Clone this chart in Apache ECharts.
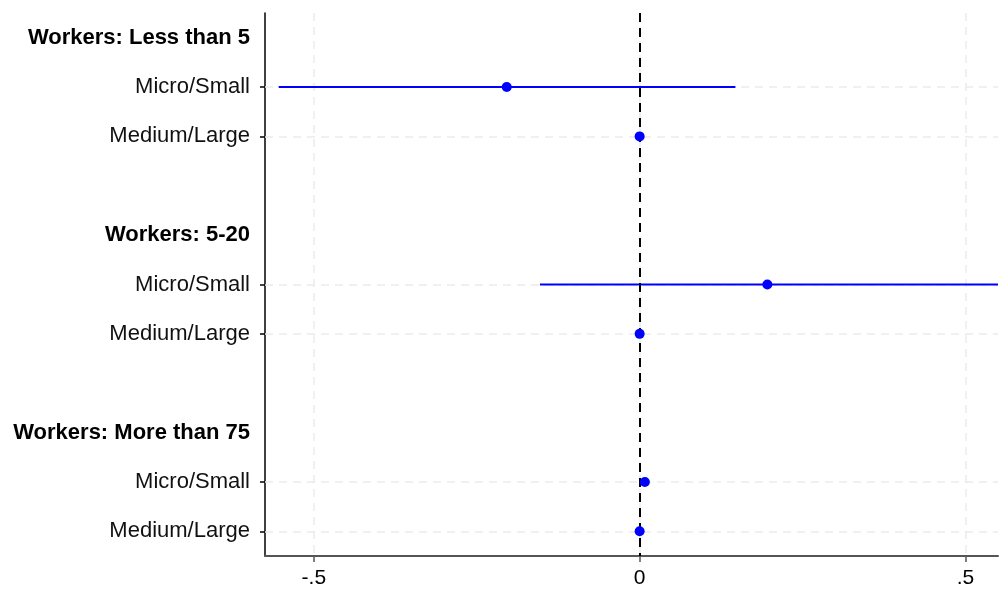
<!DOCTYPE html>
<html style="height: 100%">
<head>
    <meta charset="UTF-8">
    <title>Coefficient plot</title>
</head>
<body style="height: 100%; margin: 0; background: #fff">
<div id="container" style="height: 100%"></div>
<script src="https://cdn.jsdelivr.net/npm/echarts@6/dist/echarts.min.js"></script>
<script>
    // rows from top to bottom; headers are bold, blank rows are spacers
    var rowLabels = ['Workers: Less than 5', 'Micro/Small', 'Medium/Large', '',
        'Workers: 5-20', 'Micro/Small', 'Medium/Large', '',
        'Workers: More than 75', 'Micro/Small', 'Medium/Large'];
    var headerRows = [0, 4, 8];
    var blankRows = [3, 7];

    // estimates with 95% CI
    var estRows = [1, 2, 5, 6, 9, 10];
    var estimates = [-0.204, 0, 0.196, 0, 0.008, 0];
    var ciLow = [-0.554, null, -0.153, null, null, null];
    var ciHigh = [0.147, null, 0.56, null, null, null];

    var xTicks = [-0.5, 0, 0.5];
    var xTickLabels = ['-.5', '0', '.5'];

    var rowKeys = rowLabels.map(function (l, i) { return 'r' + i; });
    var pointData = [];
    var ciData = [];
    var gridLines = [];
    for (var i = 0; i < estRows.length; i++) {
        pointData.push([estimates[i], rowKeys[estRows[i]]]);
        gridLines.push({ yAxis: rowKeys[estRows[i]] });
        if (ciLow[i] !== null) {
            ciData.push([ciLow[i], ciHigh[i], estRows[i]]);
        }
    }

    function isLabelRow(i) {
        return headerRows.indexOf(i) < 0 && blankRows.indexOf(i) < 0;
    }

    var dom = document.getElementById('container');
    var myChart = echarts.init(dom);
    var font = 'Liberation Sans, Arial, sans-serif';
    var gridStyle = { color: '#ebebeb', width: 1.5, type: [8, 6] };
    var option = {
        animation: false,
        grid: { left: 265, right: 2, top: 13, bottom: 31 },
        xAxis: {
            type: 'value',
            min: -0.575,
            max: 0.55,
            axisLine: { show: true, onZero: false, lineStyle: { color: '#555', width: 2 } },
            axisTick: { show: true, length: 6, customValues: xTicks, lineStyle: { color: '#555', width: 1.5 } },
            axisLabel: {
                customValues: xTicks,
                margin: 12,
                color: '#000',
                fontSize: 21,
                fontFamily: font,
                formatter: function (v) {
                    var k = xTicks.indexOf(Math.round(v * 1000) / 1000);
                    return k >= 0 ? xTickLabels[k] : '';
                }
            },
            splitLine: { show: true, lineStyle: gridStyle }
        },
        yAxis: {
            type: 'category',
            inverse: true,
            data: rowKeys,
            axisLine: { show: true, onZero: false, lineStyle: { color: '#000', width: 1.5 } },
            axisTick: {
                show: true, length: 5, alignWithLabel: true,
                interval: function (idx) { return isLabelRow(idx); },
                lineStyle: { color: '#000', width: 1.5 }
            },
            axisLabel: {
                margin: 15,
                interval: 0,
                color: '#111',
                fontSize: 22,
                fontFamily: font,
                formatter: function (v, idx) {
                    if (headerRows.indexOf(idx) >= 0) return '{b|' + rowLabels[idx] + '}';
                    return rowLabels[idx];
                },
                rich: { b: { fontWeight: 'bold', fontSize: 22, fontFamily: font, color: '#000' } }
            },
            splitLine: { show: false }
        },
        series: [
            {
                // horizontal grid lines at the labelled rows
                type: 'line',
                data: [],
                z: 1,
                markLine: {
                    silent: true,
                    z: 1,
                    symbol: 'none',
                    label: { show: false },
                    lineStyle: gridStyle,
                    data: gridLines
                }
            },
            {
                type: 'custom',
                clip: true,
                data: ciData,
                encode: { x: [0, 1], y: 2 },
                renderItem: function (params, api) {
                    var a = api.coord([api.value(0), rowKeys[api.value(2)]]);
                    var b = api.coord([api.value(1), rowKeys[api.value(2)]]);
                    return {
                        type: 'line',
                        shape: { x1: a[0], y1: a[1], x2: b[0], y2: b[1] },
                        style: { stroke: '#0000ff', lineWidth: 2 }
                    };
                },
                z: 3
            },
            {
                type: 'scatter',
                data: pointData,
                symbol: 'circle',
                symbolSize: 10,
                itemStyle: { color: '#0000ff', opacity: 1 },
                z: 5,
                markLine: {
                    silent: true,
                    z: 4,
                    symbol: 'none',
                    label: { show: false },
                    lineStyle: { color: '#000', type: [9, 6], width: 2 },
                    data: [{ xAxis: 0 }]
                }
            }
        ]
    };
    myChart.setOption(option);
</script>
</body>
</html>
